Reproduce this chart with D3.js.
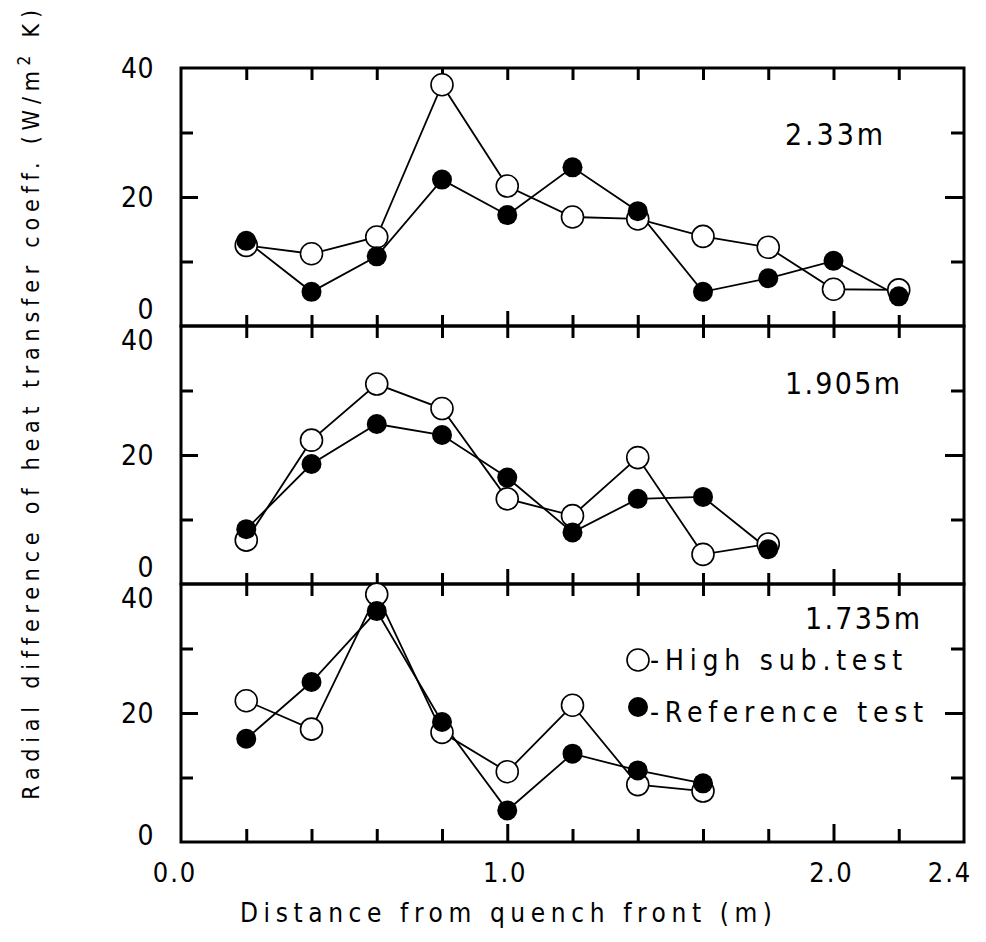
<!DOCTYPE html>
<html>
<head>
<meta charset="utf-8">
<script src="https://cdn.jsdelivr.net/npm/d3@7"></script>
<style>
  body { margin: 0; background: #fff; }
  text { font-family: "DejaVu Sans Condensed", "DejaVu Sans", sans-serif; font-stretch: condensed; fill: #000; }
</style>
</head>
<body>
<svg id="chart" width="986" height="942"></svg>
<script>
// Distance from quench front (m) at each measuring station
const distance = [0.2, 0.4, 0.6, 0.8, 1.0, 1.2, 1.4, 1.6, 1.8, 2.0, 2.2];

// Radial difference of heat transfer coefficient (W/m2 K), per elevation
const highSub233 = [12.5, 11.2, 13.8, 37.4, 21.7, 16.9, 16.6, 13.9, 12.2, 5.7, 5.6];
const ref233     = [13.2, 5.3, 10.8, 22.7, 17.2, 24.6, 17.8, 5.3, 7.4, 10.1, 4.6];

const highSub1905 = [6.8, 22.3, 31.0, 27.2, 13.2, 10.6, 19.6, 4.6, 6.2];
const ref1905     = [8.5, 18.6, 24.8, 23.1, 16.5, 8.0, 13.2, 13.5, 5.4];

const highSub1735 = [21.9, 17.5, 38.4, 17.0, 10.9, 21.2, 8.9, 7.9];
const ref1735     = [16.0, 24.8, 35.8, 18.6, 4.9, 13.7, 11.1, 9.1];

const panelLabels = ["2.33m", "1.905m", "1.735m"];
const seriesNames = ["-High sub.test", "-Reference test"];

const xTickValues = [0.2, 0.4, 0.6, 0.8, 1.0, 1.2, 1.4, 1.6, 1.8, 2.0, 2.2];
const xLabelValues = [0.0, 1.0, 2.0, 2.4];
const xLabelText = ["0.0", "1.0", "2.0", "2.4"];
const yTickValues = [10, 20, 30];
const yLabelValues = [0, 20, 40];

const panels = [
  { label: panelLabels[0], open: highSub233, filled: ref233 },
  { label: panelLabels[1], open: highSub1905, filled: ref1905 },
  { label: panelLabels[2], open: highSub1735, filled: ref1735 }
];

// ---- layout ----
const svg = d3.select("#chart");
const plotLeft = 181, plotRight = 964, plotTop = 68, plotBottom = 842;
const panelH = (plotBottom - plotTop) / 3;
const labelPlace = [{ x: 883, v: 28 }, { x: 900, v: 29.5 }, { x: 920, v: 33 }];
const labelWidth = [98, 115, 115];

const x = d3.scaleLinear().domain([0, 2.4]).range([plotLeft, plotRight]);

panels.forEach((p, i) => {
  const y0 = plotTop + i * panelH;
  const y = d3.scaleLinear().domain([0, 40]).range([y0 + panelH, y0]);
  const g = svg.append("g");
  const last = i === panels.length - 1;

  // inward ticks on all four sides
  const bottom = g.append("g").attr("transform", `translate(0,${y0 + panelH})`)
    .call(d3.axisBottom(x).tickValues(xTickValues).tickSize(-12).tickFormat(""));
  bottom.selectAll(".tick line")
    .attr("y2", d => (Math.abs(d - 1) < 1e-6 || Math.abs(d - 2) < 1e-6) ? (last ? -18 : -15) : (last ? -13 : -11));
  const top = g.append("g").attr("transform", `translate(0,${y0})`)
    .call(d3.axisTop(x).tickValues(xTickValues).tickSize(-12).tickFormat(""));
  const left = g.append("g").attr("transform", `translate(${plotLeft},0)`)
    .call(d3.axisLeft(y).tickValues(yTickValues).tickSize(-12).tickFormat(""));
  left.selectAll(".tick line").attr("x2", d => d === 20 ? 17 : 12);
  const right = g.append("g").attr("transform", `translate(${plotRight},0)`)
    .call(d3.axisRight(y).tickValues(yTickValues).tickSize(-12).tickFormat(""));
  right.selectAll(".tick line").attr("x2", d => d === 20 ? -19 : -13);
  [bottom, top, left, right].forEach(a => {
    a.select(".domain").remove();
    a.selectAll(".tick line").attr("stroke", "#000").attr("stroke-width", 3);
  });

  // frame
  g.append("rect")
    .attr("x", plotLeft).attr("y", y0)
    .attr("width", plotRight - plotLeft).attr("height", panelH)
    .attr("fill", "none").attr("stroke", "#000").attr("stroke-width", 3);

  // y tick labels (the 0 and 40 at shared borders are nudged apart)
  g.selectAll(".ylab").data(yLabelValues).join("text")
    .attr("class", "ylab")
    .attr("x", 154)
    .attr("y", d => {
      let off = 0;
      if (d === 0) off = last ? -7 : -17;
      if (d === 40 && i > 0) off = 14;
      return y(d) + off;
    })
    .attr("dy", "0.36em")
    .attr("text-anchor", "end")
    .attr("font-size", 28)
    .attr("letter-spacing", 0.5)
    .text(d => d);

  // series lines
  const line = d3.line().x((d, k) => x(distance[k])).y(d => y(d));
  g.append("path").datum(p.open).attr("d", line)
    .attr("fill", "none").attr("stroke", "#000").attr("stroke-width", 1.8);
  g.append("path").datum(p.filled).attr("d", line)
    .attr("fill", "none").attr("stroke", "#000").attr("stroke-width", 1.8);

  // markers: open first, filled on top
  g.selectAll(".open").data(p.open).join("circle")
    .attr("class", "open")
    .attr("cx", (d, k) => x(distance[k])).attr("cy", d => y(d)).attr("r", 11)
    .attr("fill", "#fff").attr("stroke", "#000").attr("stroke-width", 1.6);
  g.selectAll(".filled").data(p.filled).join("circle")
    .attr("class", "filled")
    .attr("cx", (d, k) => x(distance[k])).attr("cy", d => y(d)).attr("r", 10)
    .attr("fill", "#000");

  // elevation label
  g.append("text")
    .attr("x", labelPlace[i].x - labelWidth[i]).attr("y", y(labelPlace[i].v))
    .attr("font-size", 30)
    .attr("textLength", labelWidth[i]).attr("lengthAdjust", "spacing")
    .text(p.label);

  // legend in the lowest panel
  if (last) {
    const lg = g.append("g");
    lg.append("circle").attr("cx", 638).attr("cy", 660).attr("r", 11)
      .attr("fill", "#fff").attr("stroke", "#000").attr("stroke-width", 1.6);
    lg.append("text").attr("x", 650).attr("y", 670).attr("font-size", 28)
      .attr("textLength", 252).attr("lengthAdjust", "spacing").text(seriesNames[0]);
    lg.append("circle").attr("cx", 638).attr("cy", 707).attr("r", 10).attr("fill", "#000");
    lg.append("text").attr("x", 650).attr("y", 722).attr("font-size", 28)
      .attr("textLength", 273).attr("lengthAdjust", "spacing").text(seriesNames[1]);
  }
});

// x tick labels
svg.selectAll(".xlab").data(xLabelValues).join("text")
  .attr("class", "xlab")
  .attr("x", (d, k) => x(d) + (k === 0 ? -6 : (k === xLabelValues.length - 1 ? -14 : -2)))
  .attr("y", 882)
  .attr("text-anchor", "middle")
  .attr("font-size", 27)
  .attr("letter-spacing", 2)
  .text((d, k) => xLabelText[k]);

// axis titles
svg.append("text")
  .attr("x", 240).attr("y", 922)
  .attr("font-size", 26)
  .attr("textLength", 532).attr("lengthAdjust", "spacing")
  .text("Distance from quench front (m)");

const yt = svg.append("text")
  .attr("transform", "translate(39,402) rotate(-90)")
  .attr("text-anchor", "middle")
  .attr("font-size", 23)
  .attr("letter-spacing", 5.8);
yt.append("tspan").text("Radial difference of heat transfer coeff. (W/m");
yt.append("tspan").attr("dy", -9).attr("font-size", 17).text("2");
yt.append("tspan").attr("dy", 9).text(" K)");
</script>
</body>
</html>
